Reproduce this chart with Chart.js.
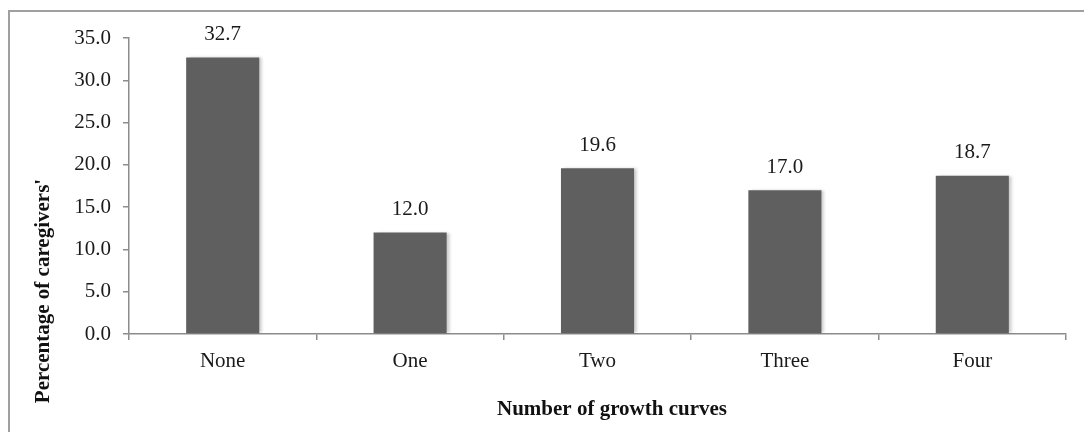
<!DOCTYPE html>
<html>
<head>
<meta charset="utf-8">
<script src="https://cdn.jsdelivr.net/npm/chart.js@4/dist/chart.umd.min.js"></script>
<style>
  html, body { margin: 0; padding: 0; background: #fff; overflow: hidden; }
  #frame {
    position: absolute; left: 8px; top: 10px;
    width: 1200px; height: 600px;
    border: 2px solid #a0a0a0; box-sizing: border-box;
  }
  #chart { position: absolute; left: 0; top: 0; }
</style>
</head>
<body>
<div id="frame"></div>
<canvas id="chart" width="1084" height="432"></canvas>
<script>
// chart data
const categories = ["None", "One", "Two", "Three", "Four"];
const caregiverPct = [32.7, 12.0, 19.6, 17.0, 18.7];
const yMax = 35;
const yStep = 5;

const xTitle = "Number of growth curves";
const yTitle = "Percentage of caregivers'";

const serif = "'Liberation Serif', 'DejaVu Serif', serif";

// value labels above bars + the two axis titles
const labelsPlugin = {
  id: "labelsPlugin",
  beforeDatasetsDraw(chart) {
    const ctx = chart.ctx;
    ctx.save();
    ctx.shadowColor = "rgba(0,0,0,0.22)";
    ctx.shadowBlur = 3;
    ctx.shadowOffsetX = 3;
    ctx.shadowOffsetY = 0;
  },
  afterDatasetsDraw(chart) {
    const ctx = chart.ctx;
    ctx.restore();
    const meta = chart.getDatasetMeta(0);
    ctx.save();
    ctx.fillStyle = "#1a1a1a";
    ctx.font = "21px " + serif;
    ctx.textAlign = "center";
    ctx.textBaseline = "middle";
    meta.data.forEach((bar, i) => {
      ctx.fillText(caregiverPct[i].toFixed(1), bar.x, bar.y - 23);
    });
    ctx.restore();
  },
  afterDraw(chart) {
    const ctx = chart.ctx;
    ctx.save();
    ctx.fillStyle = "#111";
    ctx.font = "bold 21px " + serif;
    ctx.textAlign = "center";
    ctx.textBaseline = "middle";
    ctx.fillText(xTitle, 612, 410);
    ctx.translate(44, 291);
    ctx.rotate(-Math.PI / 2);
    ctx.fillText(yTitle, 0, 0);
    ctx.restore();
  }
};

new Chart(document.getElementById("chart"), {
  type: "bar",
  data: {
    labels: categories,
    datasets: [
      {
        data: caregiverPct,
        backgroundColor: "#5f5f5f",
        borderWidth: 0,
        barPercentage: 0.39,
        categoryPercentage: 1.0
      }
    ]
  },
  options: {
    responsive: false,
    devicePixelRatio: 1,
    animation: false,
    layout: { padding: { top: 38, right: 18, left: 0, bottom: 0 } },
    plugins: {
      legend: { display: false },
      tooltip: { enabled: false }
    },
    scales: {
      x: {
        afterFit(scale) { scale.height = 98; },
        border: { color: "#8c8c8c", width: 1.5 },
        grid: {
          offset: true,
          drawOnChartArea: false,
          drawTicks: true,
          tickLength: 6,
          color: "#8c8c8c",
          lineWidth: 1.5
        },
        ticks: {
          color: "#1a1a1a",
          font: { family: serif, size: 21 },
          padding: 9
        }
      },
      y: {
        min: 0,
        max: yMax,
        afterFit(scale) { scale.width = 129; },
        border: { color: "#8c8c8c", width: 1.5 },
        grid: {
          drawOnChartArea: false,
          drawTicks: true,
          tickLength: 6,
          color: "#8c8c8c",
          lineWidth: 1.5
        },
        ticks: {
          stepSize: yStep,
          color: "#1a1a1a",
          font: { family: serif, size: 21 },
          padding: 12,
          callback: (v) => Number(v).toFixed(1)
        }
      }
    }
  },
  plugins: [labelsPlugin]
});
</script>
</body>
</html>
